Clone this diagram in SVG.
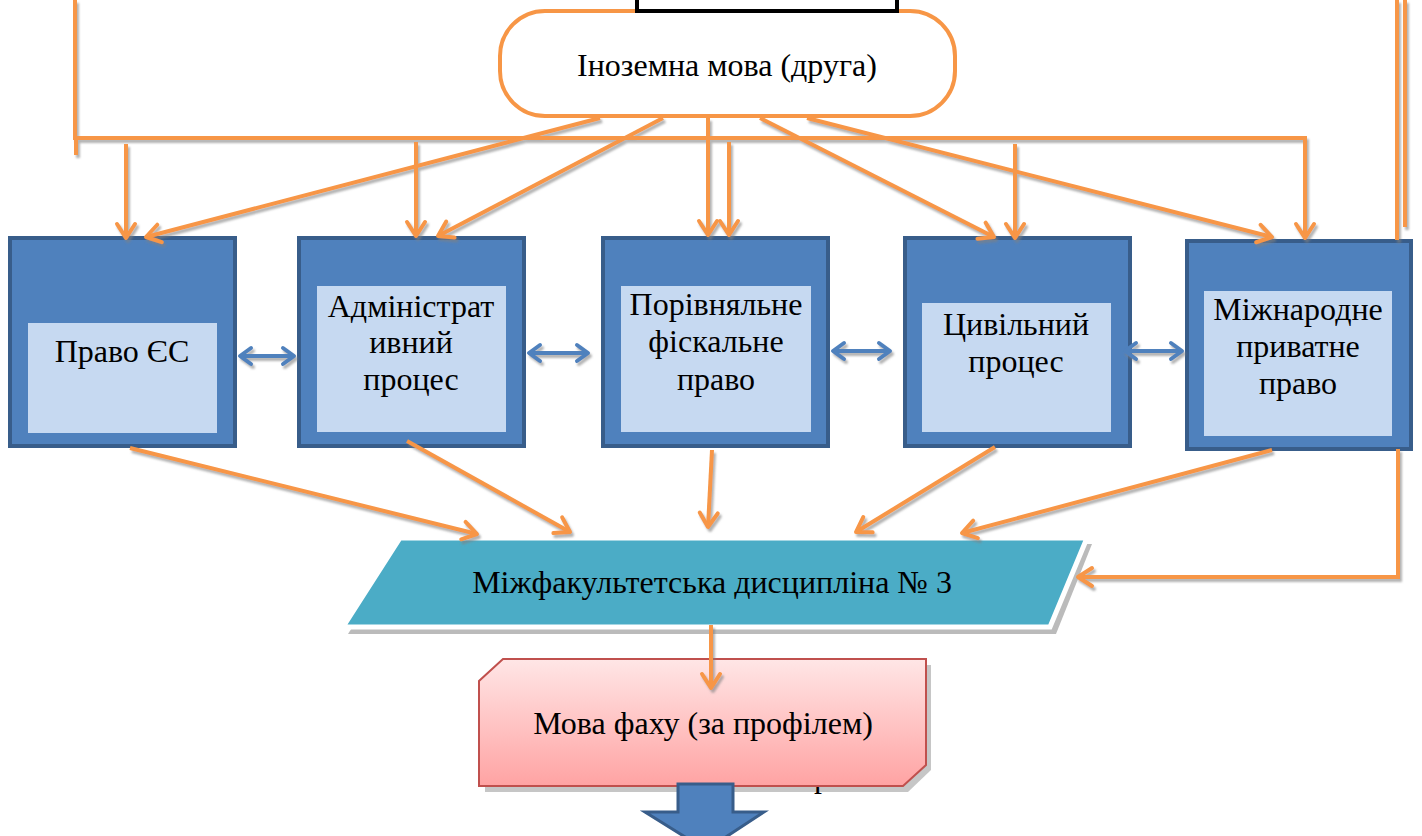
<svg xmlns="http://www.w3.org/2000/svg" width="1422" height="836" viewBox="0 0 1422 836">
<style>
.t{font-family:"Liberation Serif","Times New Roman","DejaVu Serif",serif;font-size:32px;fill:#000;text-anchor:middle}
.o{stroke:#F79646;stroke-width:4;fill:none}
.oa{stroke:#F79646;stroke-width:4;fill:none;marker-end:url(#ah)}
.b{stroke:#4F81BD;stroke-width:4;fill:none;marker-start:url(#bh);marker-end:url(#bh)}
.frame{fill:#4F81BD;stroke:#385D8A;stroke-width:4}
.inner{fill:#C6D9F1}
</style>
<defs>
<marker id="ah" markerUnits="userSpaceOnUse" markerWidth="24" markerHeight="24" viewBox="-20 -12 24 24" refX="0" refY="0" orient="auto">
<path d="M-14,-9 L0,0 L-14,9" fill="none" stroke="#F79646" stroke-width="4" stroke-linecap="round" stroke-linejoin="round"/>
</marker>
<marker id="bh" markerUnits="userSpaceOnUse" markerWidth="24" markerHeight="24" viewBox="-20 -12 24 24" refX="0" refY="0" orient="auto-start-reverse">
<path d="M-11,-8 L0,0 L-11,8" fill="none" stroke="#4F81BD" stroke-width="4" stroke-linecap="round" stroke-linejoin="round"/>
</marker>
<filter id="sh" x="-5%" y="-5%" width="110%" height="120%">
<feDropShadow dx="2" dy="3" stdDeviation="1" flood-color="#808080" flood-opacity="0.6"/>
</filter>
<linearGradient id="pink" x1="0" y1="0" x2="0" y2="1">
<stop offset="0" stop-color="#FFE6E6"/>
<stop offset="1" stop-color="#FFA3A3"/>
</linearGradient>
</defs>

<g id="foreign-language">
<rect x="500" y="11" width="455" height="105" rx="45" ry="45" fill="#fff" stroke="#F79646" stroke-width="4"/>
<text class="t" x="727" y="76">Іноземна мова (друга)</text>
</g>

<g id="top-box">
<rect x="637" y="-10" width="260" height="21" fill="#fff" stroke="#000" stroke-width="4"/>
</g>

<g id="eu-law">
<rect class="frame" x="10" y="238" width="225" height="208"/>
<rect class="inner" x="28" y="323" width="189" height="110"/>
<text class="t" x="122" y="362">Право ЄС</text>
</g>

<g id="admin-process">
<rect class="frame" x="299" y="238" width="225" height="208"/>
<rect class="inner" x="317" y="286" width="189" height="146"/>
<text class="t" x="411" y="317">Адміністрат</text>
<text class="t" x="411" y="353">ивний</text>
<text class="t" x="411" y="390">процес</text>
</g>

<g id="fiscal-law">
<rect class="frame" x="603" y="238" width="225" height="208"/>
<rect class="inner" x="621" y="286" width="190" height="146"/>
<text class="t" x="716" y="315">Порівняльне</text>
<text class="t" x="716" y="352">фіскальне</text>
<text class="t" x="716" y="390">право</text>
</g>

<g id="civil-process">
<rect class="frame" x="905" y="238" width="225" height="208"/>
<rect class="inner" x="922" y="303" width="189" height="129"/>
<text class="t" x="1016" y="335">Цивільний</text>
<text class="t" x="1016" y="372">процес</text>
</g>

<g id="private-intl-law">
<rect class="frame" x="1187" y="241" width="224" height="208"/>
<rect class="inner" x="1204" y="291" width="188" height="145"/>
<text class="t" x="1298" y="320">Міжнародне</text>
<text class="t" x="1298" y="357">приватне</text>
<text class="t" x="1298" y="394">право</text>
</g>

<g id="interfaculty">
<polygon points="405,544 1092,544 1056,634 348,634" fill="#9E9E9E" opacity="0.7"/>
<polygon points="400,538 1087,538 1050,627 343,627" fill="#4BACC6" stroke="#fff" stroke-width="5" stroke-linejoin="miter"/>
<text class="t" x="712" y="593">Міжфакультетська дисципліна № 3</text>
</g>

<g id="professional-language">
<polygon points="507,665 931,665 931,770 908,792 485,792 485,687" fill="#A0A0A0" opacity="0.6"/>
<text class="t" x="822" y="787">р</text>
<polygon points="503,659 926,659 926,765 903,786 479,786 479,681" fill="url(#pink)" stroke="#C0504D" stroke-width="2"/>
<text class="t" x="703" y="734">Мова фаху (за профілем)</text>
</g>

<g id="down-arrow">
<polygon points="678,784 733,784 733,812 764,812 706,850 645,812 678,812" fill="#4F81BD" stroke="#385D8A" stroke-width="3"/>
</g>

<g id="connectors" filter="url(#sh)">
<polyline class="o" points="75,0 75,138 1305,138 1305,238" style="marker-end:url(#ah)"/>
<line class="o" x1="76" y1="140" x2="76" y2="155"/>
<line class="oa" x1="126" y1="144" x2="126" y2="238"/>
<line class="oa" x1="416" y1="142" x2="416" y2="236"/>
<line class="oa" x1="708" y1="118" x2="708" y2="235"/>
<line class="oa" x1="729" y1="142" x2="729" y2="235"/>
<line class="oa" x1="1015" y1="144" x2="1015" y2="238"/>
<line class="oa" x1="600" y1="118" x2="146" y2="237"/>
<line class="oa" x1="663" y1="118" x2="438" y2="236"/>
<line class="oa" x1="760" y1="118" x2="994" y2="237"/>
<line class="oa" x1="807" y1="118" x2="1272" y2="237"/>
<line class="o" x1="1397" y1="0" x2="1397" y2="240"/>
<line class="o" x1="1405" y1="0" x2="1405" y2="227"/>

<line class="b" x1="240" y1="356" x2="294" y2="356"/>
<line class="b" x1="529" y1="353" x2="588" y2="353"/>
<line class="b" x1="833" y1="351" x2="890" y2="351"/>
<line class="b" x1="1125" y1="351" x2="1182" y2="351"/>

<line class="oa" x1="130" y1="448" x2="477" y2="534"/>
<line class="oa" x1="407" y1="441" x2="570" y2="532"/>
<line class="oa" x1="712" y1="450" x2="708" y2="527"/>
<line class="oa" x1="995" y1="447" x2="856" y2="532"/>
<line class="oa" x1="1272" y1="450" x2="962" y2="533"/>
<polyline class="oa" points="1398,449 1398,577 1078,577"/>
<line class="oa" x1="711" y1="625" x2="711" y2="688"/>
</g>
</svg>
